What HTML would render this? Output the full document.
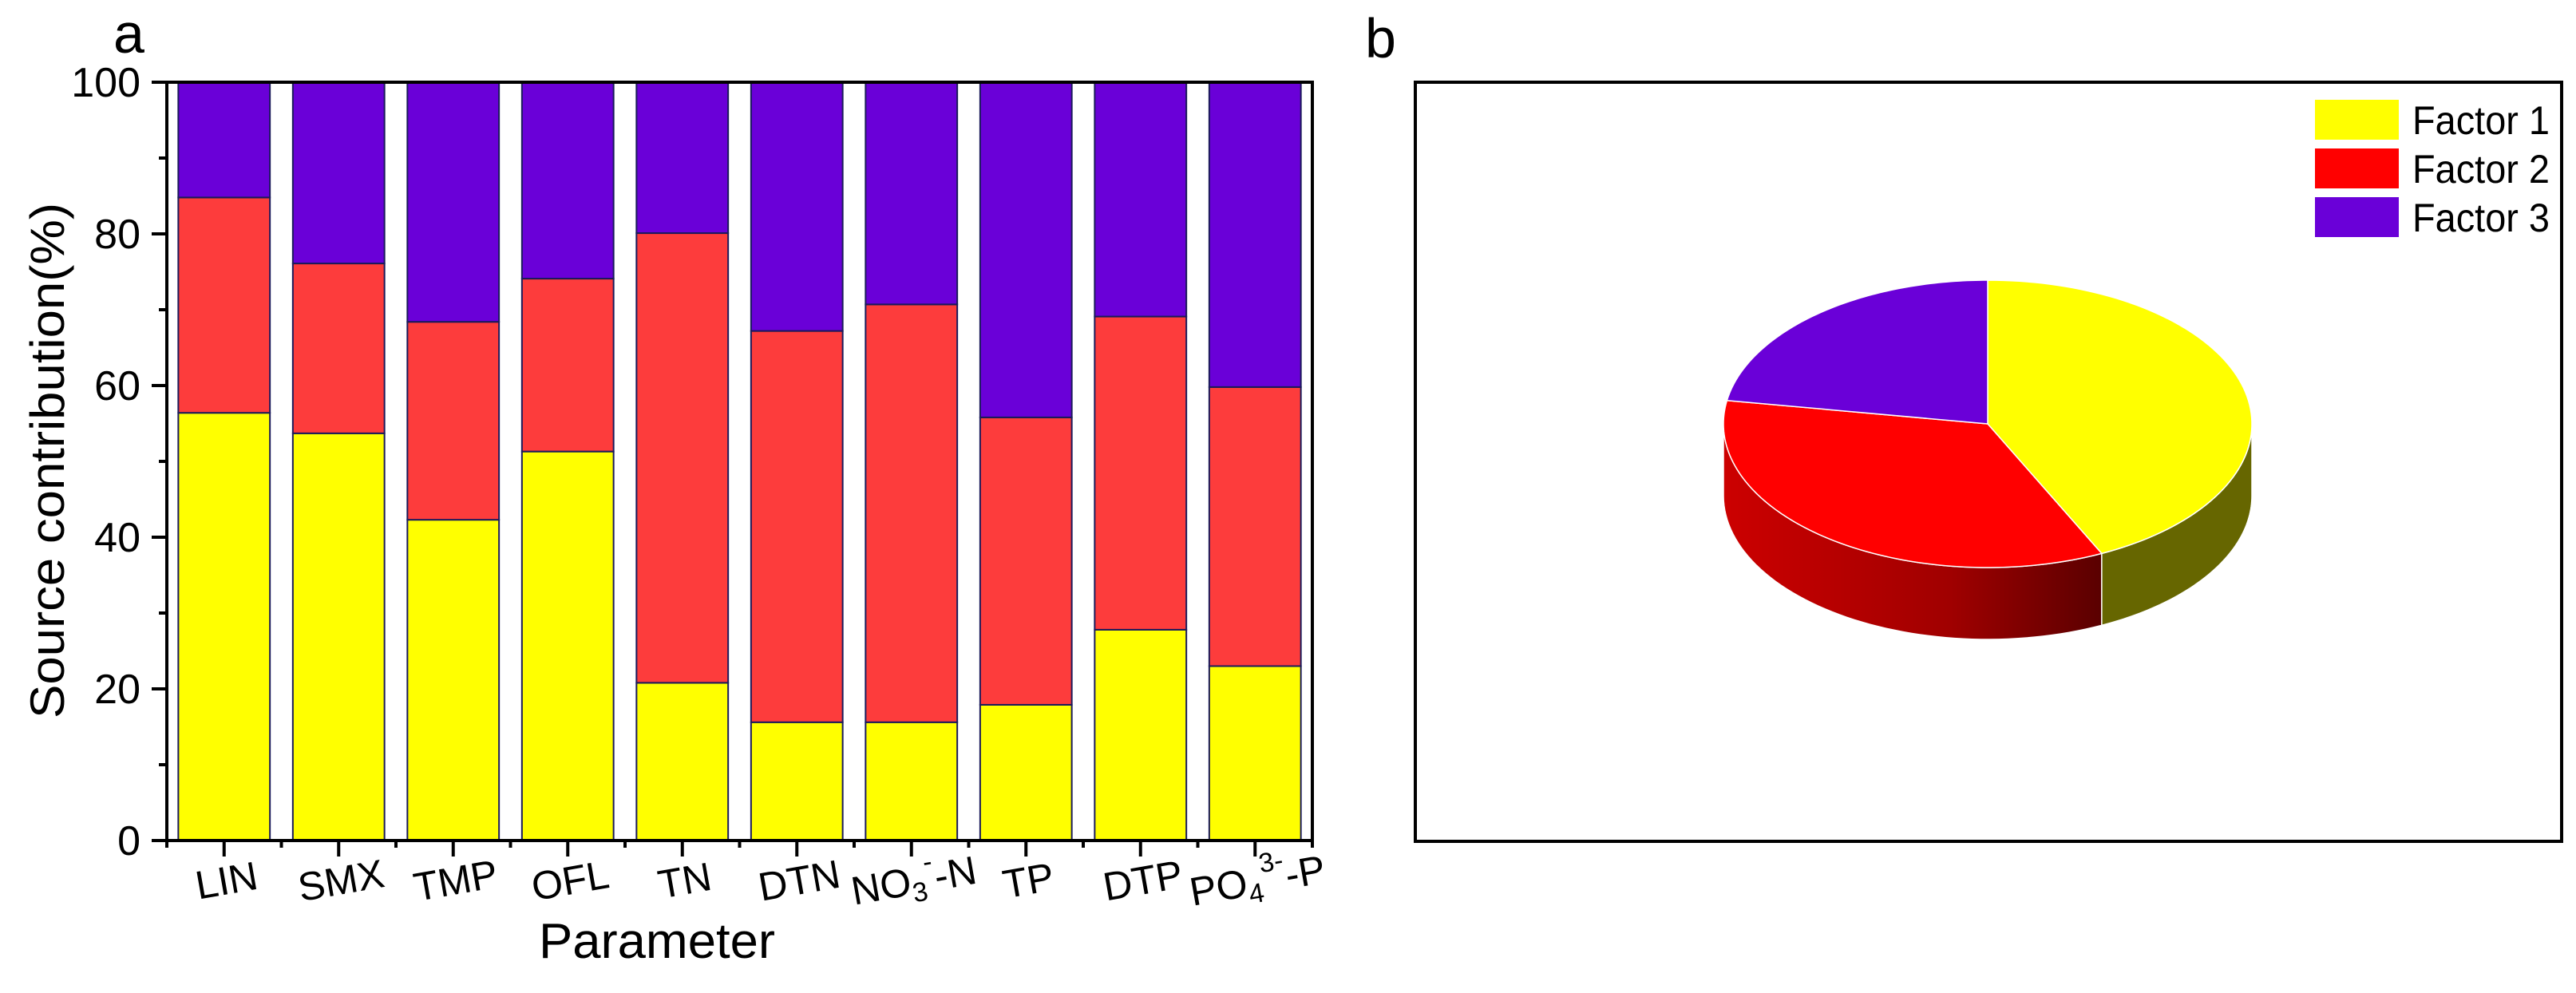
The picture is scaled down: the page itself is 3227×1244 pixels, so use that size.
<!DOCTYPE html>
<html><head><meta charset="utf-8"><style>
html,body{margin:0;padding:0;background:#fff;}
svg{display:block;font-family:"Liberation Sans",Arial,sans-serif;}
</style></head><body>
<svg id="fig" width="3227" height="1244" viewBox="0 0 3227 1244" xmlns="http://www.w3.org/2000/svg">
<defs>
<linearGradient id="redSide" gradientUnits="userSpaceOnUse" x1="2160" y1="0" x2="2632" y2="0">
<stop offset="0" stop-color="#cc0000"/><stop offset="0.6" stop-color="#a00000"/><stop offset="1" stop-color="#5a0000"/>
</linearGradient>
</defs>
<text x="142" y="66" font-size="70">a</text>
<text x="1710" y="72" font-size="70">b</text>
<g id="barsG"></g>
<g id="axesG"></g>
<text x="60" y="577" font-size="60" text-anchor="middle" transform="rotate(-90 60 577)" textLength="646" lengthAdjust="spacingAndGlyphs" dy="20">Source contribution(%)</text>
<text x="823" y="1200" font-size="62" text-anchor="middle" textLength="296" lengthAdjust="spacingAndGlyphs">Parameter</text>
<rect x="1773" y="103" width="1436" height="951" fill="none" stroke="#000" stroke-width="4"/>
<g id="pieG"></g>
<g id="legendG"></g>
</svg>
<script>
const categories=["LIN","SMX","TMP","OFL","TN","DTN","NO3-N","TP","DTP","PO4-P"];
const factor1=[56.4,53.7,42.3,51.3,20.8,15.6,15.6,17.9,27.8,23.0];
const factor2=[28.4,22.4,26.1,22.8,59.3,51.6,55.1,37.9,41.3,36.8];
const factor3=[15.2,23.9,31.6,25.9,19.9,32.8,29.3,44.2,30.9,40.2];
const yTicks=[0,20,40,60,80,100];
const pieLabels=["Factor 1","Factor 2","Factor 3"];
const pieValues=[42.9,34.7,22.4];

const NS="http://www.w3.org/2000/svg";
function mk(tag,attrs,parent){const e=document.createElementNS(NS,tag);for(const k in attrs)e.setAttribute(k,attrs[k]);parent.appendChild(e);return e;}
const X0=209,X1=1644,Y0=1053,Y1=103;
const band=(X1-X0)/categories.length;
const xc=i=>X0+band*(i+0.5);
const ys=v=>Y0-(Y0-Y1)*v/100;
const barsG=document.getElementById('barsG'),axesG=document.getElementById('axesG');
const series=[factor1,factor2,factor3],cols=["#ffff00","#fd3c3c","#6a00d8"],snames=["factor1","factor2","factor3"];
categories.forEach((c,i)=>{
  let base=0;const bw=band*0.8;
  series.forEach((s,j)=>{
    const v=s[i];let top=base+v;if(j===2)top=100;
    const r=mk('rect',{x:xc(i)-bw/2,y:ys(top),width:bw,height:ys(base)-ys(top),fill:cols[j],stroke:"#1a1a5a","stroke-width":2},barsG);
    
    
    base=top;
  });
});
const fr=mk('rect',{x:X0,y:Y1,width:X1-X0,height:Y0-Y1,fill:"none",stroke:"#000","stroke-width":4},axesG);


for(let v=0;v<=100;v+=10){
  const major=v%20===0;
  const t=mk('line',{x1:X0,x2:X0-(major?19:10),y1:ys(v),y2:ys(v),stroke:"#000","stroke-width":4},axesG);
  
  
}
yTicks.forEach(v=>{
  const t=mk('text',{x:176,y:ys(v)+18,"font-size":52,"text-anchor":"end"},axesG);
  t.textContent=v;
  
  
});
for(let i=0;i<=categories.length;i++){
  const b=mk('line',{x1:X0+band*i,x2:X0+band*i,y1:Y0,y2:Y0+9,stroke:"#000","stroke-width":4},axesG);
  
  
}
categories.forEach((c,i)=>{
  const t=mk('line',{x1:xc(i),x2:xc(i),y1:Y0,y2:Y0+20,stroke:"#000","stroke-width":4},axesG);
  
  
  const cx=xc(i)+6,cy=1120;
  const tx=mk('text',{x:cx,y:cy,"font-size":50,"text-anchor":"middle",transform:`rotate(-10 ${cx} ${cy})`},axesG);
  
  
  if(c==="NO3-N"){tx.innerHTML='NO<tspan font-size="34" dy="10">3</tspan><tspan font-size="34" dy="-36">-</tspan><tspan dy="26">-N</tspan>';}
  else if(c==="PO4-P"){tx.innerHTML='PO<tspan font-size="34" dy="10">4</tspan><tspan font-size="34" dy="-36">3-</tspan><tspan dy="26">-P</tspan>';}
  else tx.textContent=c;
});
const pieG=document.getElementById('pieG');
const CX=2490,CY=531,RX=331,RY=180,D=90;
const pt=(t,dy)=>[CX+RX*Math.sin(t),CY-RY*Math.cos(t)+(dy||0)];
const tot=pieValues.reduce((a,b)=>a+b,0);
const pcol=["#ffff00","#ff0000","#6a00d8"],side=["#666600","url(#redSide)","#3a0078"];
let acc=0;const angs=pieValues.map(v=>{const a0=acc;acc+=v/tot*2*Math.PI;return [a0,acc];});
angs.forEach(([a0,a1],k)=>{
  const s=Math.max(a0,Math.PI/2),e=Math.min(a1,1.5*Math.PI);
  if(e<=s)return;
  const top=[],bot=[];const n=60;
  for(let j=0;j<=n;j++){const t=s+(e-s)*j/n;top.push(pt(t));bot.push(pt(t,D));}
  const d='M'+top.map(p=>p.join(',')).join(' L')+' L'+bot.reverse().map(p=>p.join(',')).join(' L')+'Z';
  const p=mk('path',{d:d,fill:side[k],stroke:"#fff","stroke-width":1.5},pieG);
  
  
});
angs.forEach(([a0,a1],k)=>{
  const pts=[];const n=90;
  for(let j=0;j<=n;j++)pts.push(pt(a0+(a1-a0)*j/n));
  const d=`M${CX},${CY} L`+pts.map(p=>p.join(',')).join(' L')+'Z';
  const p=mk('path',{d:d,fill:pcol[k],stroke:"#fff","stroke-width":1.5},pieG);
  
  
});
const legendG=document.getElementById('legendG');
pieLabels.forEach((l,k)=>{
  const y=125+k*61;
  const r=mk('rect',{x:2900,y:y,width:105,height:50,fill:pcol[k]},legendG);
  
  
  const t=mk('text',{x:3022,y:y+43,"font-size":50,textLength:172,lengthAdjust:"spacingAndGlyphs"},legendG);
  t.textContent=l;
  
  
});
</script>
</body></html>
